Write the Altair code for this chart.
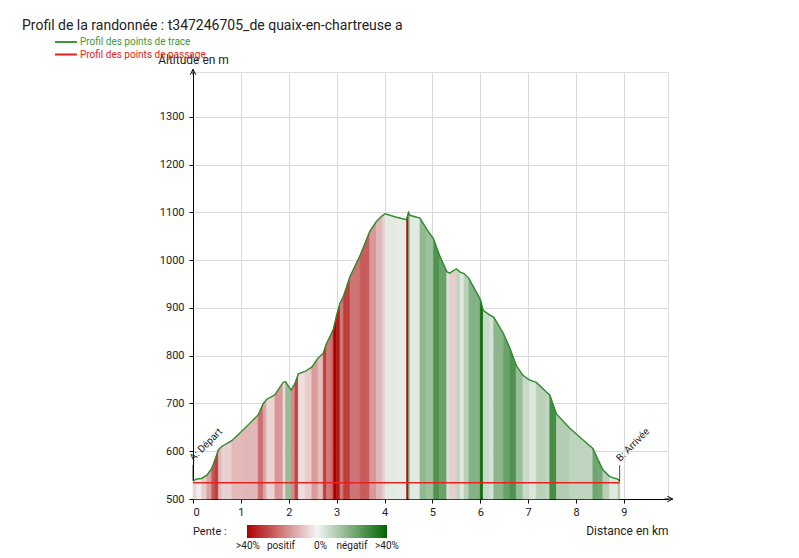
import altair as alt
import pandas as pd

# ---- data ----
km = [0.00, 0.08, 0.18, 0.29, 0.39, 0.46, 0.53, 0.60, 0.81, 1.05, 1.22, 1.36, 1.47, 1.54,
      1.71, 1.88, 1.93, 2.05, 2.13, 2.20, 2.34, 2.48, 2.61, 2.72, 2.79, 2.86, 2.93, 3.00,
      3.07, 3.14, 3.28, 3.49, 3.69, 3.83, 3.95, 4.01, 4.25, 4.46, 4.50, 4.53, 4.60, 4.74,
      4.88, 5.02, 5.15, 5.30, 5.36, 5.50, 5.58, 5.66, 5.76, 6.00, 6.06, 6.20, 6.28, 6.48,
      6.62, 6.75, 6.89, 7.03, 7.17, 7.38, 7.45, 7.52, 7.59, 7.87, 8.14, 8.35, 8.46, 8.56,
      8.70, 8.88, 8.91]
altitude = [538, 542, 543, 550, 564, 582, 603, 610, 622, 645, 662, 676, 700, 709,
            718, 744, 746, 728, 742, 762, 767, 776, 795, 805, 826, 840, 855, 885,
            910, 924, 966, 1010, 1060, 1081, 1093, 1097, 1090, 1085, 1100, 1094, 1092, 1088,
            1065, 1045, 1010, 976, 973, 982, 975, 972, 962, 918, 895, 885, 881, 847,
            815, 780, 759, 749, 744, 724, 718, 698, 678, 648, 624, 606, 582, 561,
            547, 541, 537]

passage_km = [0.0, 8.91]
passage_alt = [534, 534]

marker_names = ["A: Départ", "B: Arrivée"]
marker_km = [0.0, 8.91]
marker_alt = [538, 537]

x_ticks = [0, 1, 2, 3, 4, 5, 6, 7, 8, 9]
y_ticks = [500, 600, 700, 800, 900, 1000, 1100, 1200, 1300]
x_domain = [0, 9.92]
y_domain = [500, 1394]

slope_colors = ["#ad0000", "#f4f4f4", "#006400"]   # >40% climb, 0%, >40% descent
legend_labels = [">40%", "positif", "0%", "négatif", ">40%"]
legend_title = "Pente :"

title_text = "Profil de la randonnée : t347246705_de quaix-en-chartreuse a"
trace_label = "Profil des points de trace"
passage_label = "Profil des points de passage"

FONT = "Roboto"
GREEN_LINE = "#2e8b2e"
RED_LINE = "#e52222"

# ---- tables built from the arrays ----
rows = []
for i in range(len(km) - 1):
    slope = (altitude[i + 1] - altitude[i]) / ((km[i + 1] - km[i]) * 1000) * 100
    inv = -slope  # red = climb
    rows.append({"km": km[i], "altitude": altitude[i], "seg": i, "pente": inv, "pente_s": inv})
    rows.append({"km": km[i + 1], "altitude": altitude[i + 1], "seg": i, "pente": inv, "pente_s": inv})
seg_df = pd.DataFrame(rows)
prof_df = pd.DataFrame({"km": km, "altitude": altitude})
pass_df = pd.DataFrame({"km": passage_km, "altitude": passage_alt})
mark_df = pd.DataFrame({"km": marker_km, "altitude": marker_alt, "name": marker_names})

xs = alt.Scale(domain=x_domain, nice=False, zero=False)
ys = alt.Scale(domain=y_domain, nice=False, zero=False)
cs = alt.Scale(domain=[-40, 0, 40], range=slope_colors, clamp=True, interpolate="rgb")

x_axis = alt.Axis(values=x_ticks, format="d", grid=True, gridColor="#d9d9d9",
                  domainColor="black", tickColor="black", tickSize=4,
                  labelFontSize=11, labelColor="#222", labelPadding=3, labelFont=FONT,
                  title="Distance en km", titleX=475, titleY=35, titleAlign="right",
                  titleBaseline="alphabetic", titleFontSize=12, titleFontWeight="normal",
                  titleFont=FONT, titleColor="#222")
y_axis = alt.Axis(values=y_ticks, format="d", grid=True, gridColor="#d9d9d9",
                  domainColor="black", tickColor="black", tickSize=4,
                  labelFontSize=11, labelColor="#222", labelPadding=5, labelFont=FONT,
                  title="Altitude en m", titleAngle=0, titleX=0, titleY=-9,
                  titleAlign="center", titleBaseline="alphabetic", titleFontSize=12,
                  titleFontWeight="normal", titleFont=FONT, titleColor="#222")

areas = alt.Chart(seg_df).mark_area(strokeWidth=0.6, opacity=1).encode(
    x=alt.X("km:Q", scale=xs, axis=x_axis),
    y=alt.Y("altitude:Q", scale=ys, axis=y_axis),
    y2=alt.datum(500),
    detail="seg:N",
    fill=alt.Fill("pente:Q", scale=cs, legend=None),
    stroke=alt.Stroke("pente_s:Q", scale=cs, legend=None),
)

passage = alt.Chart(pass_df).mark_line(color=RED_LINE, strokeWidth=1.5).encode(
    x=alt.X("km:Q", scale=xs), y=alt.Y("altitude:Q", scale=ys))

profile = alt.Chart(prof_df).mark_line(color=GREEN_LINE, strokeWidth=1.4).encode(
    x=alt.X("km:Q", scale=xs), y=alt.Y("altitude:Q", scale=ys))

ticks = alt.Chart(mark_df).mark_tick(orient="vertical", size=16, thickness=1,
                                     color="black", yOffset=-8).encode(
    x=alt.X("km:Q", scale=xs), y=alt.Y("altitude:Q", scale=ys))

mtext = alt.Chart(mark_df).mark_text(angle=315, align="left", baseline="bottom",
                                     xOffset=2, yOffset=-18, fontSize=10, font=FONT,
                                     color="#222").encode(
    x=alt.X("km:Q", scale=xs), y=alt.Y("altitude:Q", scale=ys), text="name:N")

y_arrow = alt.Chart(pd.DataFrame({"a": [0]})).mark_point(
    shape="M-1,1L0,-1L1,1M0,1L0,-1", filled=False, size=30, stroke="black",
    strokeWidth=1, opacity=1).encode(x=alt.datum(x_domain[0], scale=xs),
                                     y=alt.datum(y_domain[1], scale=ys))
x_arrow = alt.Chart(pd.DataFrame({"a": [0]})).mark_point(
    shape="M-1,-1L1,0L-1,1M-2,0L1,0", filled=False, size=30, stroke="black",
    strokeWidth=1, opacity=1, xOffset=2).encode(x=alt.datum(x_domain[1], scale=xs),
                                                y=alt.datum(y_domain[0], scale=ys))

def label(text, x, y, size, color, align="left"):
    return alt.Chart(pd.DataFrame({"t": [text]})).mark_text(
        align=align, baseline="alphabetic", fontSize=size, font=FONT, color=color
    ).encode(x=alt.value(x), y=alt.value(y), text="t:N")

title = label(title_text, -171, -42, 14, "#222")
leg1_line = alt.Chart(pd.DataFrame({"a": [0]})).mark_rule(
    color="#3a9a3a", strokeWidth=2).encode(x=alt.value(-138), x2=alt.value(-116),
                                           y=alt.value(-30))
leg1_text = label(trace_label, -113, -27, 10, "#3a9a3a")
leg2_line = alt.Chart(pd.DataFrame({"a": [0]})).mark_rule(
    color=RED_LINE, strokeWidth=2).encode(x=alt.value(-138), x2=alt.value(-116),
                                          y=alt.value(-17.5))
leg2_text = label(passage_label, -113, -14, 10, RED_LINE)

# slope legend: gradient bar + labels
grad = alt.Gradient(gradient="linear", x1=0, x2=1, y1=0, y2=0, stops=[
    alt.GradientStop(offset=0, color=slope_colors[0]),
    alt.GradientStop(offset=0.5, color=slope_colors[1]),
    alt.GradientStop(offset=1, color=slope_colors[2]),
])
grad_bar = alt.Chart(pd.DataFrame({"a": [0]})).mark_rect(fill=grad).encode(
    x=alt.value(54), x2=alt.value(194), y=alt.value(453), y2=alt.value(466))
pente_title = label(legend_title, 0, 463, 11, "#222")
label_x = [55, 88, 127.5, 159, 194]
pente_labels = [label(t, lx, 477, 10, "#222", align="center")
                for t, lx in zip(legend_labels, label_x)]

chart = alt.layer(
    areas, passage, profile, ticks, mtext, y_arrow, x_arrow,
    title, leg1_line, leg1_text, leg2_line, leg2_text,
    grad_bar, pente_title, *pente_labels
).properties(
    width=475, height=427,
    padding={"left": 185, "top": 64, "right": 120, "bottom": 55},
    autosize=alt.AutoSizeParams(type="none"),
).configure_view(stroke=None).configure(background="white")

chart.save("out.html", embed_options={"renderer": "svg", "actions": False})
